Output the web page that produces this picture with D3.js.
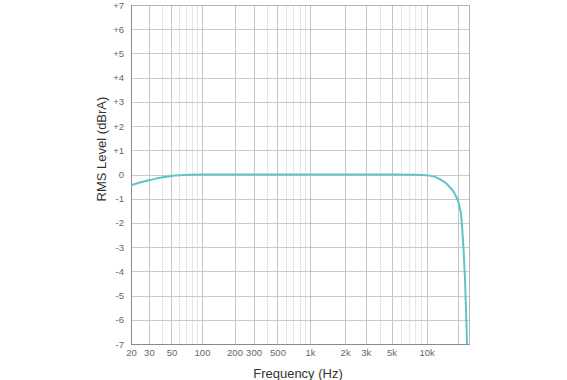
<!DOCTYPE html>
<html>
<head>
<meta charset="utf-8">
<script src="https://cdn.jsdelivr.net/npm/d3@7"></script>
<style>
  html, body { margin: 0; padding: 0; background: #fff; }
  svg { display: block; }
  text { font-family: "Liberation Sans", Arial, sans-serif; }
</style>
</head>
<body>
<svg id="chart" width="567" height="380"></svg>
<script>
// Data
const freqs = [20, 25, 30, 35, 40, 50, 60, 75, 100, 150, 200, 500, 1000, 2000, 5000, 8000, 10000, 12000, 13500, 15000, 17000, 18500, 19500, 20500, 21000, 21500, 22000, 22700, 23500, 24100, 24600];
const levels = [-0.45, -0.32, -0.24, -0.17, -0.12, -0.06, -0.03, -0.01, 0, 0, 0, 0, 0, 0, 0, -0.01, -0.03, -0.1, -0.2, -0.32, -0.55, -0.75, -0.95, -1.2, -1.4, -1.6, -2.1, -3.0, -4.3, -5.7, -7.0];
const xTickValues = [20, 30, 50, 100, 200, 300, 500, 1000, 2000, 3000, 5000, 10000];
const xTickLabels = ["20", "30", "50", "100", "200", "300", "500", "1k", "2k", "3k", "5k", "10k"];
const xMajorGrid = [30, 50, 100, 200, 300, 500, 1000, 2000, 3000, 5000, 10000, 20000];
const xMinorGrid = [40, 60, 70, 80, 90, 400, 600, 700, 800, 900, 4000, 6000, 7000, 8000, 9000];
const yTickValues = [7, 6, 5, 4, 3, 2, 1, 0, -1, -2, -3, -4, -5, -6, -7];
const yTickLabels = ["+7", "+6", "+5", "+4", "+3", "+2", "+1", "0", "-1", "-2", "-3", "-4", "-5", "-6", "-7"];

const svg = d3.select("#chart");
const pLeft = 131, pRight = 469, pTop = 5, pBottom = 344;

const x = d3.scaleLog()
  .domain([20, 100, 1000, 10000, 20000, 25700])
  .range([pLeft, 202, 310, 426.7, 457.7, pRight]);
const y = d3.scaleLinear().domain([-7, 7]).range([pBottom, pTop]);

// minor vertical grid
svg.append("g").selectAll("line").data(xMinorGrid).join("line")
  .attr("x1", d => Math.round(x(d)) + 0.5).attr("x2", d => Math.round(x(d)) + 0.5)
  .attr("y1", pTop).attr("y2", pBottom)
  .attr("stroke", "#e6e6e6").attr("stroke-width", 1);

// horizontal grid
svg.append("g").selectAll("line").data(yTickValues).join("line")
  .attr("x1", pLeft).attr("x2", pRight)
  .attr("y1", d => Math.round(y(d)) + 0.5).attr("y2", d => Math.round(y(d)) + 0.5)
  .attr("stroke", "#c9c9c9").attr("stroke-width", 1);

// major vertical grid
svg.append("g").selectAll("line").data(xMajorGrid).join("line")
  .attr("x1", d => Math.round(x(d)) + 0.5).attr("x2", d => Math.round(x(d)) + 0.5)
  .attr("y1", pTop).attr("y2", pBottom)
  .attr("stroke", "#c4c4c4").attr("stroke-width", 1);

// frame
svg.append("rect")
  .attr("x", pLeft + 0.5).attr("y", pTop + 0.5)
  .attr("width", pRight - pLeft).attr("height", pBottom - pTop)
  .attr("fill", "none").attr("stroke", "#b5b5b5");
svg.append("line").attr("x1", pLeft + 0.5).attr("x2", pLeft + 0.5).attr("y1", pTop).attr("y2", pBottom + 0.5)
  .attr("stroke", "#8a8a8a");
svg.append("line").attr("x1", pLeft).attr("x2", pRight + 0.5).attr("y1", pBottom + 0.5).attr("y2", pBottom + 0.5)
  .attr("stroke", "#8a8a8a");

// curve
const line = d3.line()
  .x((d, i) => x(freqs[i]))
  .y(d => y(d))
  .curve(d3.curveMonotoneX);
svg.append("path")
  .datum(levels)
  .attr("d", line)
  .attr("fill", "none")
  .attr("stroke", "#5ec4c8")
  .attr("stroke-width", 2);

// x tick labels
const xAxis = d3.axisBottom(x).tickValues(xTickValues)
  .tickFormat((d, i) => xTickLabels[i]).tickSize(0).tickPadding(5);
const gx = svg.append("g").attr("transform", `translate(0,${pBottom})`).call(xAxis);
gx.select(".domain").remove();
gx.selectAll("text").attr("font-size", 9.5).attr("fill", "#666")
  .style("font-family", "'Liberation Sans', Arial, sans-serif");

// y tick labels
const yAxis = d3.axisLeft(y).tickValues(yTickValues)
  .tickFormat((d, i) => yTickLabels[i]).tickSize(0).tickPadding(7);
const gy = svg.append("g").attr("transform", `translate(${pLeft},0)`).call(yAxis);
gy.select(".domain").remove();
gy.selectAll("text").attr("font-size", 9.5).attr("fill", "#666")
  .style("font-family", "'Liberation Sans', Arial, sans-serif");

// axis titles
svg.append("text")
  .attr("x", 298).attr("y", 378)
  .attr("text-anchor", "middle")
  .attr("font-size", 13).attr("fill", "#333")
  .text("Frequency (Hz)");
svg.append("text")
  .attr("transform", "translate(106,149) rotate(-90)")
  .attr("text-anchor", "middle")
  .attr("font-size", 13).attr("fill", "#333")
  .text("RMS Level (dBrA)");
</script>
</body>
</html>
